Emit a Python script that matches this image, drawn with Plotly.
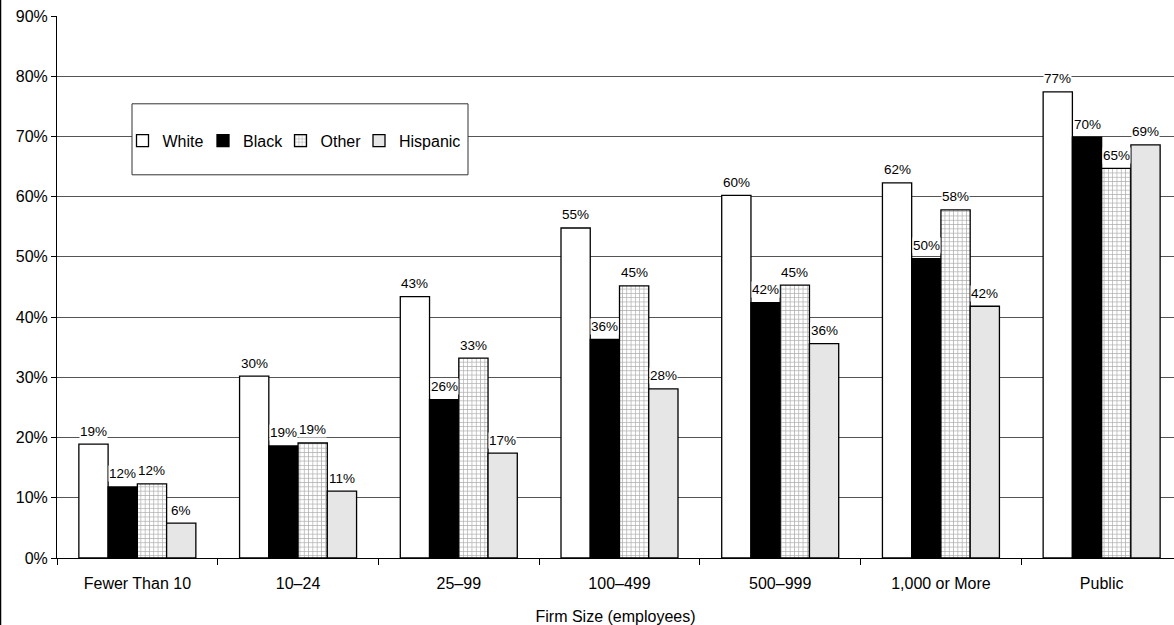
import plotly.graph_objects as go

# Share of workers by firm size and group (percent)
firm_sizes = ["Fewer Than 10", "10–24", "25–99", "100–499", "500–999", "1,000 or More", "Public"]
white = [18.9, 30.2, 43.4, 54.8, 60.2, 62.3, 77.4]
black = [11.8, 18.6, 26.3, 36.3, 42.4, 49.7, 69.9]
other = [12.3, 19.1, 33.2, 45.2, 45.3, 57.8, 64.7]
hispanic = [5.8, 11.1, 17.4, 28.1, 35.6, 41.8, 68.6]

y_ticks = [0, 10, 20, 30, 40, 50, 60, 70, 80, 90]

FONT = "Liberation Sans, Arial, Helvetica, sans-serif"
BARGAP = 0.272

series = [
    ("White", white, dict(color="white")),
    ("Black", black, dict(color="black")),
    ("Other", other, dict(color="white",
                          pattern=dict(shape="+", fgcolor="#5a5a5a", bgcolor="white",
                                       size=4.3, solidity=0.3))),
    ("Hispanic", hispanic, dict(color="#e6e6e6")),
]

plot_w = 1174 - 57
plot_h = 625 - 16 - 67

# one legend box per series so the entries can be spaced evenly in a row
legend_ids = ["legend", "legend2", "legend3", "legend4"]
legend_left_px = [122.5, 203, 280.5, 359]

fig = go.Figure()
for (name, values, marker), lid in zip(series, legend_ids):
    fig.add_trace(go.Bar(
        x=firm_sizes, y=values, name=name, legend=lid,
        marker=dict(line=dict(color="black", width=1.3), **marker),
        hoverinfo="skip",
    ))

# Value labels centred over each bar, with a white box that breaks the gridlines
n = len(series)
bar_w = (1 - BARGAP) / n
annotations = []
for k, (name, values, _) in enumerate(series):
    for i, v in enumerate(values):
        annotations.append(dict(
            x=i + (k - (n - 1) / 2) * bar_w, y=v, xref="x", yref="y",
            text=f"{v:.0f}%", showarrow=False, yanchor="middle", yshift=13,
            bgcolor="white", borderpad=0,
            font=dict(family=FONT, size=13.5, color="black"),
        ))

legend_layouts = {}
for lid, left in zip(legend_ids, legend_left_px):
    legend_layouts[lid] = dict(
        orientation="h", x=(left - 57) / plot_w, y=0.770,
        xanchor="left", yanchor="middle",
        bgcolor="rgba(0,0,0,0)", borderwidth=0,
        font=dict(family=FONT, size=16, color="black"),
    )

fig.update_layout(
    width=1174, height=625,
    margin=dict(l=57, r=0, t=16, b=67),
    paper_bgcolor="white", plot_bgcolor="white",
    barmode="group", bargap=BARGAP, bargroupgap=0,
    font=dict(family=FONT, size=16, color="black"),
    showlegend=True,
    annotations=annotations,
    shapes=[
        # legend frame
        dict(type="rect", xref="paper", yref="paper",
             x0=(132 - 57) / plot_w, x1=(468 - 57) / plot_w,
             y0=0.707, y1=0.838,
             fillcolor="white", line=dict(color="#333333", width=1), layer="above"),
        # outer frame on the left
        dict(type="line", xref="paper", yref="paper",
             x0=(0.5 - 57) / plot_w, x1=(0.5 - 57) / plot_w,
             y0=-67 / plot_h, y1=(plot_h + 16) / plot_h,
             line=dict(color="black", width=1.5)),
    ],
    **legend_layouts,
)

fig.update_xaxes(
    type="category", range=[-0.5, -0.5 + 7 * 1117 / 1125],
    tickson="boundaries", ticks="outside", ticklen=6, tickcolor="black",
    showline=True, linecolor="black", linewidth=1,
    showgrid=False, zeroline=False,
    ticklabelstandoff=11,
    tickfont=dict(family=FONT, size=16, color="black"),
    title=dict(text="Firm Size (employees)", standoff=20,
               font=dict(family=FONT, size=16, color="black")),
)
fig.update_yaxes(
    range=[0, 90], tickvals=y_ticks, ticktext=[f"{t}%" for t in y_ticks],
    ticks="outside", ticklen=5, tickcolor="black",
    showline=True, linecolor="black", linewidth=1,
    showgrid=True, gridcolor="#555555", gridwidth=1, zeroline=False,
    tickfont=dict(family=FONT, size=16, color="black"),
)

fig.write_html("out.html")
